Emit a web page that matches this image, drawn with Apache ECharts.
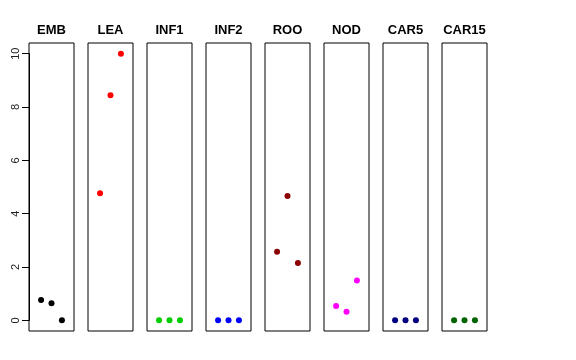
<!DOCTYPE html>
<html><head><meta charset="utf-8">
<script src="https://cdn.jsdelivr.net/npm/echarts@6/dist/echarts.min.js"></script>
<style>html,body{margin:0;padding:0;background:#fff}#c{width:576px;height:360px}</style>
</head><body><div id="c"></div>
<script>
const panelNames = ['EMB','LEA','INF1','INF2','ROO','NOD','CAR5','CAR15'];
const panelColors = ['#000000','#FF0000','#00CD00','#0000FF','#8B0000','#FF00FF','#000080','#006400'];
const xPositions = [1, 2, 3];
const EMB = [0.76, 0.64, 0];
const LEA = [4.77, 8.44, 10.0];
const INF1 = [0, 0, 0];
const INF2 = [0, 0, 0];
const ROO = [2.57, 4.66, 2.15];
const NOD = [0.54, 0.32, 1.49];
const CAR5 = [0, 0, 0];
const CAR15 = [0, 0, 0];
const panelValues = [EMB, LEA, INF1, INF2, ROO, NOD, CAR5, CAR15];
const yTicks = [0, 2, 4, 6, 8, 10];

(function () {
const font = 'Liberation Sans, Arial, Helvetica, sans-serif';
const grids = [], xAxes = [], yAxes = [], series = [];
const left0 = 29, pitch = 59, w = 45, gTop = 43, h = 288;
panelNames.forEach((name, i) => {
  grids.push({left: left0 + pitch * i, width: w, top: gTop, height: h, show: true,
    borderColor: '#000', borderWidth: 1, backgroundColor: 'transparent'});
  xAxes.push({type: 'value', gridIndex: i, min: -0.16, max: 4.16, position: 'top',
    axisLine: {show: false}, axisTick: {show: false}, axisLabel: {show: false}, splitLine: {show: false},
    name: name, nameLocation: 'middle', nameGap: 6,
    nameTextStyle: {fontFamily: font, fontWeight: 'bold', fontSize: 13, color: '#000'}});
  yAxes.push({type: 'value', gridIndex: i, min: -0.4, max: 10.4,
    axisLine: {show: false}, axisTick: {show: false}, axisLabel: {show: false}, splitLine: {show: false}});
  series.push({type: 'scatter', xAxisIndex: i, yAxisIndex: i, symbol: 'circle', symbolSize: 6,
    itemStyle: {color: panelColors[i], opacity: 1},
    data: xPositions.map((x, j) => [x, panelValues[i][j]]), silent: true});
});
const gi = panelNames.length;
const unit = h / 10.8;
grids.push({left: left0, width: w, top: gTop + 0.4 * unit, height: 10 * unit, show: false});
xAxes.push({type: 'value', gridIndex: gi, show: false, min: 0, max: 1});
yAxes.push({type: 'value', gridIndex: gi, min: yTicks[0], max: yTicks[yTicks.length - 1], interval: 2,
  axisLine: {show: true, lineStyle: {color: '#000', width: 1}},
  axisTick: {show: true, length: 7, lineStyle: {color: '#000'}},
  axisLabel: {show: true, rotate: 90, margin: 8, fontFamily: font, fontSize: 11, color: '#222'},
  splitLine: {show: false}});

const chart = echarts.init(document.getElementById('c'), null, {renderer: 'canvas'});
chart.setOption({animation: false, backgroundColor: '#fff',
  grid: grids, xAxis: xAxes, yAxis: yAxes, series: series});
})();
</script></body></html>
